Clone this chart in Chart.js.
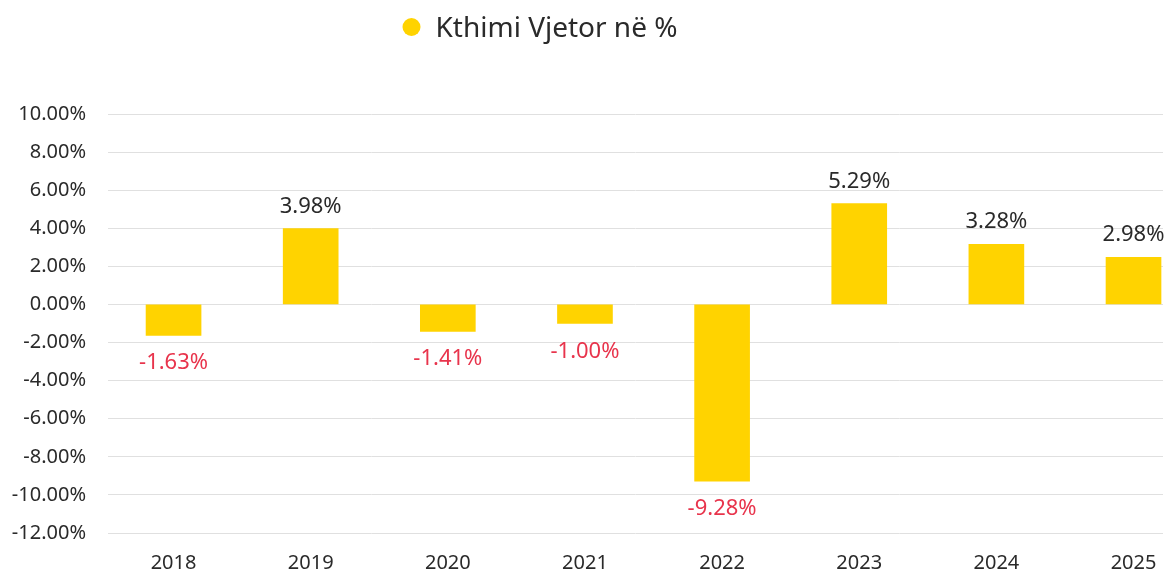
<!DOCTYPE html>
<html>
<head>
<meta charset="utf-8">
<script src="https://cdn.jsdelivr.net/npm/chart.js@4.4.0/dist/chart.umd.min.js"></script>
<style>
  html, body { margin: 0; padding: 0; background: #fff; }
  #wrap { width: 1170px; height: 573px; }
</style>
</head>
<body>
<div id="wrap"><canvas id="chart" width="1170" height="573"></canvas></div>
<script>
// data
const years = ['2018', '2019', '2020', '2021', '2022', '2023', '2024', '2025'];
const values = [-1.63, 3.98, -1.41, -1.00, -9.28, 5.29, 3.16, 2.47];
const valueLabels = ['-1.63%', '3.98%', '-1.41%', '-1.00%', '-9.28%', '5.29%', '3.28%', '2.98%'];
const seriesName = 'Kthimi Vjetor në %';
const yMin = -12, yMax = 10, yStep = 2;

const FONT = '"Noto Sans", sans-serif';
const YELLOW = '#FFD300';

// legend drawn by hand, it sits left of the canvas centre in the original
const legendPlugin = {
  id: 'topLegend',
  afterDraw(chart) {
    const ctx = chart.ctx;
    ctx.save();
    ctx.font = '28px ' + FONT;
    const tw = ctx.measureText(seriesName).width;
    const left = 540 - (18 + 15 + tw) / 2;
    ctx.fillStyle = YELLOW;
    ctx.beginPath();
    ctx.arc(left + 9, 27, 9, 0, Math.PI * 2);
    ctx.fill();
    ctx.fillStyle = '#2a2a2a';
    ctx.textBaseline = 'alphabetic';
    ctx.fillText(seriesName, left + 33, 27 + 10);
    ctx.restore();
  }
};

// value labels above / below each bar
const valueLabelPlugin = {
  id: 'valueLabels',
  afterDatasetsDraw(chart) {
    const ctx = chart.ctx;
    const meta = chart.getDatasetMeta(0);
    ctx.save();
    ctx.font = '22px ' + FONT;
    ctx.textAlign = 'center';
    ctx.textBaseline = 'alphabetic';
    meta.data.forEach((bar, i) => {
      const v = values[i];
      let cy;
      if (v >= 0) {
        ctx.fillStyle = '#2a2a2a';
        cy = bar.y - 24;
      } else {
        ctx.fillStyle = '#E8344C';
        cy = bar.y + 26;
      }
      ctx.fillText(valueLabels[i], bar.x, cy + 8);
    });
    ctx.restore();
  }
};

new Chart(document.getElementById('chart'), {
  type: 'bar',
  data: {
    datasets: [{
      label: seriesName,
      data: values.map((v, i) => ({ x: i, y: v })),
      backgroundColor: YELLOW,
      borderWidth: 0,
      barThickness: 55
    }]
  },
  options: {
    responsive: false,
    animation: false,
    devicePixelRatio: 1,
    layout: { padding: { top: 114, left: 8, right: 7, bottom: 0 } },
    plugins: {
      legend: { display: false },
      tooltip: { enabled: false }
    },
    scales: {
      x: {
        type: 'linear',
        offset: false,
        min: -0.478,
        max: 7.215,
        grid: { display: false },
        border: { display: false },
        afterFit(scale) { scale.height = 40; },
        ticks: {
          stepSize: 1,
          includeBounds: false,
          autoSkip: false,
          maxRotation: 0,
          padding: 10,
          color: '#2a2a2a',
          font: { family: FONT, size: 20 },
          callback: (v) => Number.isInteger(v) && years[v] ? years[v] : ''
        }
      },
      y: {
        min: yMin,
        max: yMax,
        grid: { color: '#E0E0E0', lineWidth: 1, drawTicks: false },
        border: { display: false },
        afterFit(scale) { scale.width = 100; },
        ticks: {
          stepSize: yStep,
          padding: 22,
          color: '#2a2a2a',
          font: { family: FONT, size: 20 },
          callback: (v) => v.toFixed(2) + '%'
        }
      }
    }
  },
  plugins: [legendPlugin, valueLabelPlugin]
});
</script>
</body>
</html>
